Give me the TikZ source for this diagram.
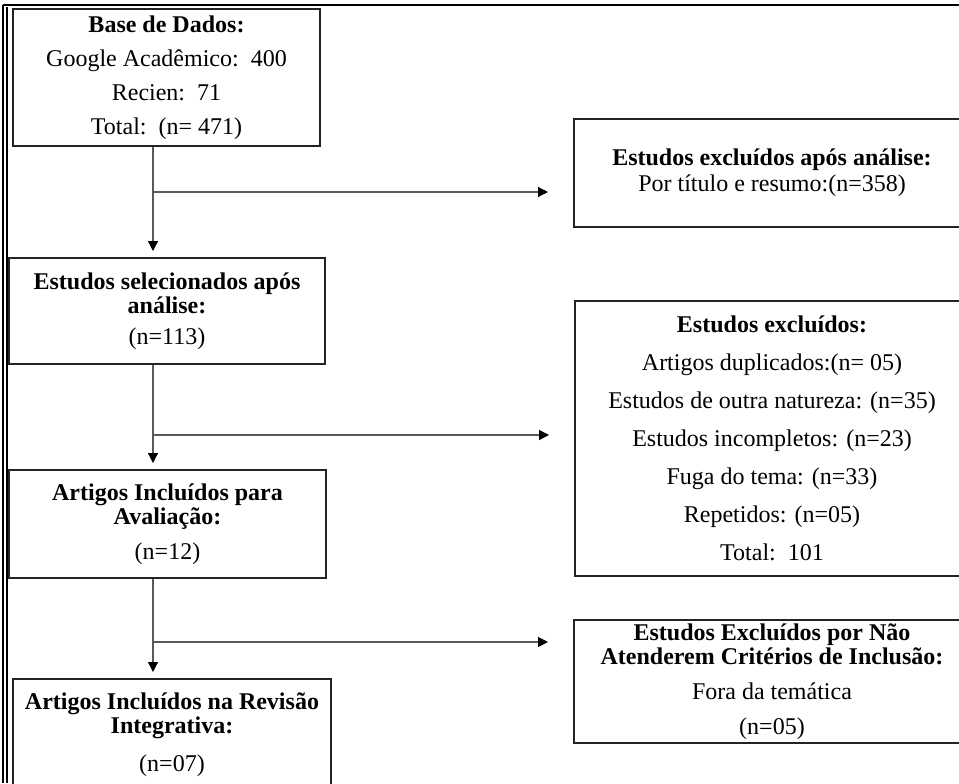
\documentclass[tikz,border=0pt]{standalone}
\usepackage{fontspec}
\setmainfont{Liberation Serif}
\usepackage{tikz}
\usetikzlibrary{arrows.meta}
\definecolor{linegray}{RGB}{90,90,90}
\definecolor{boxline}{RGB}{35,35,35}

\begin{document}
\begin{tikzpicture}[x=0.5pt,y=-0.5pt,>={Triangle[length=5pt,width=5pt,color=black]},
  box/.style={draw=boxline,line width=1pt,anchor=north west,inner sep=0pt,
    align=center,font=\fontsize{12}{12}\selectfont},
  flow/.style={->,draw=linegray,line width=0.6pt}]
  \useasboundingbox (0,0) rectangle (959,783);

  % frame
  \draw[line width=1.2pt] (3,5) -- (959,5);
  \draw[line width=0.6pt] (3,5) -- (3,783) (7,7) -- (7,783);

  % left column
  \node[box,minimum width=153.5pt,minimum height=68.5pt] (base) at (12,8)
    {\textbf{Base de Dados:}\\[5pt] Google Acadêmico:~~400\\[5pt] Recien:~~71\\[5pt] Total:~~(n=~471)};
  \node[box,minimum width=158pt,minimum height=53pt] (sel) at (8,257)
    {\textbf{Estudos selecionados após}\\ \textbf{análise:}\\[3.5pt] (n=113)};
  \node[box,minimum width=158.5pt,minimum height=54pt] (aval) at (8,469)
    {\textbf{Artigos Incluídos para}\\ \textbf{Avaliação:}\\[5.5pt] (n=12)};
  \node[box,minimum width=159pt,minimum height=56pt] (final) at (12,678)
    {\textbf{Artigos Incluídos na Revisão}\\ \textbf{Integrativa:}\\[7pt] (n=07)};

  % right column
  \node[box,minimum width=198pt,minimum height=54pt] (exc1) at (573,118)
    {\textbf{Estudos excluídos após análise:}\\[1pt] Por título e resumo:(n=358)};
  \node[box,minimum width=197pt,minimum height=137.5pt] (exc2) at (574,300)
    {\textbf{Estudos excluídos:}\\[7pt] Artigos duplicados:(n=~05)\\[7pt] Estudos de outra natureza: (n=35)\\[7pt]
     Estudos incompletos: (n=23)\\[7pt] Fuga do tema: (n=33)\\[7pt] Repetidos: (n=05)\\[7pt] Total:~~101};
  \node[box,minimum width=198pt,minimum height=61.5pt] (exc3) at (573,619)
    {\textbf{Estudos Excluídos por Não}\\ \textbf{Atenderem Critérios~de Inclusão:}\\[5.5pt] Fora da temática\\[5.5pt] (n=05)};

  % connectors
  \coordinate (b1) at (153,192);
  \coordinate (b2) at (153,435);
  \coordinate (b3) at (153,642);
  \draw[flow,shorten >=3pt] (base.south -| b1) -- (sel.north -| b1);
  \draw[flow,shorten >=3pt] (sel.south -| b2) -- (aval.north -| b2);
  \draw[flow,shorten >=3pt] (aval.south -| b3) -- (final.north -| b3);
  \draw[flow,shorten >=12.5pt] (b1) -- (b1 -| exc1.west);
  \draw[flow,shorten >=12.5pt] (b2) -- (b2 -| exc2.west);
  \draw[flow,shorten >=12.5pt] (b3) -- (b3 -| exc3.west);
\end{tikzpicture}
\end{document}
